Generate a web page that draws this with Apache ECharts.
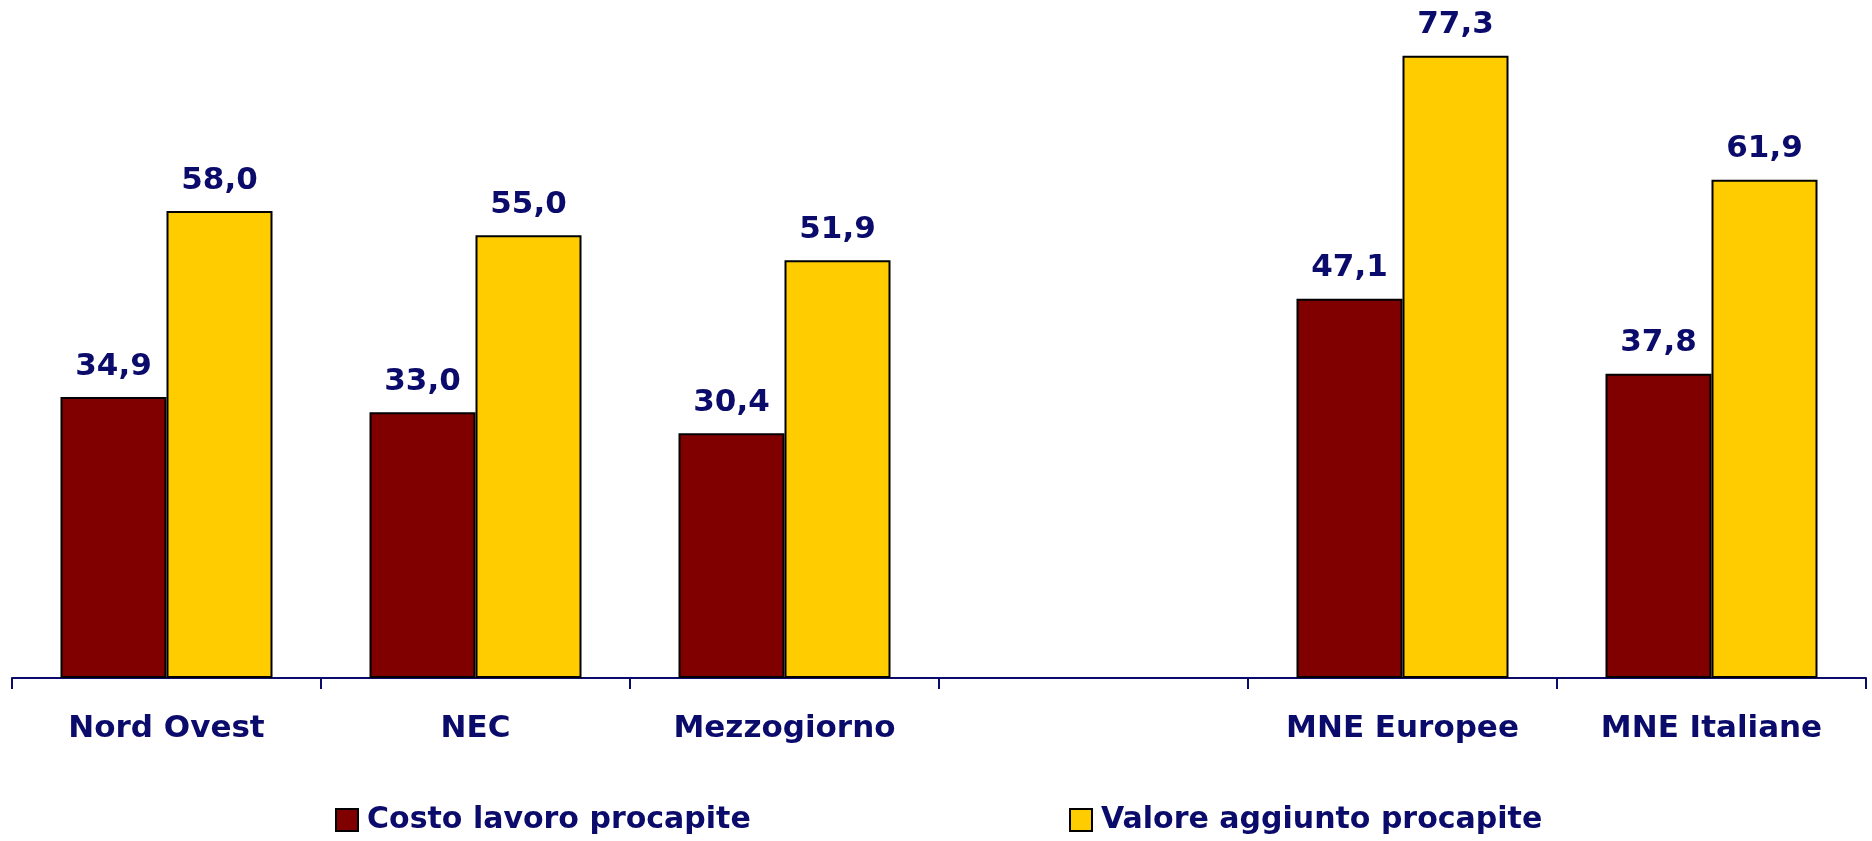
<!DOCTYPE html>
<html>
<head>
<meta charset="utf-8">
<script src="https://cdn.jsdelivr.net/npm/echarts@6/dist/echarts.min.js"></script>
<style>html,body{margin:0;padding:0;background:#fff}#c{width:1872px;height:841px}</style>
</head>
<body>
<div id="c"></div>
<script>
const categories = ['Nord Ovest', 'NEC', 'Mezzogiorno', '', 'MNE Europee', 'MNE Italiane'];
const costoLavoro = [34.9, 33.0, 30.4, null, 47.1, 37.8];
const valoreAggiunto = [58.0, 55.0, 51.9, null, 77.3, 61.9];
const seriesNames = ['Costo lavoro procapite', 'Valore aggiunto procapite'];

const navy = '#0b0b6b';
const font = 'DejaVu Sans';
const fmt = p => p.value == null ? '' : p.value.toFixed(1).replace('.', ',');

const legendText = { fontFamily: font, fontWeight: 'bold', fontSize: 30, color: navy, padding: [0, 0, 0, 4] };
const legendItem = { borderColor: '#000', borderWidth: 2 };

const chart = echarts.init(document.getElementById('c'));
chart.setOption({
  animation: false,
  backgroundColor: '#fff',
  grid: { left: 12, right: 6, top: 34, bottom: 163 },
  legend: [
    { data: [seriesNames[0]], left: 330, top: 800, itemWidth: 22, itemHeight: 22,
      icon: 'rect', itemStyle: legendItem, textStyle: legendText },
    { data: [seriesNames[1]], left: 1064, top: 800, itemWidth: 22, itemHeight: 22,
      icon: 'rect', itemStyle: legendItem, textStyle: legendText }
  ],
  xAxis: {
    type: 'category', data: categories,
    axisLine: { lineStyle: { color: navy, width: 2 } },
    axisTick: { show: true, length: 11, lineStyle: { color: navy, width: 2 } },
    axisLabel: { margin: 35, fontFamily: font, fontWeight: 'bold', fontSize: 31, color: navy, interval: 0 }
  },
  yAxis: { type: 'value', min: 0, max: 80, show: false, splitLine: { show: false } },
  series: [
    { name: seriesNames[0], type: 'bar', data: costoLavoro, barWidth: 106, barGap: '0%',
      itemStyle: { color: '#800000', borderColor: '#000', borderWidth: 2 },
      label: { show: true, position: 'top', distance: 15, formatter: fmt, fontFamily: font, fontWeight: 'bold', fontSize: 31, color: navy } },
    { name: seriesNames[1], type: 'bar', data: valoreAggiunto, barWidth: 106, barGap: '0%',
      itemStyle: { color: '#FFCC00', borderColor: '#000', borderWidth: 2 },
      label: { show: true, position: 'top', distance: 15, formatter: fmt, fontFamily: font, fontWeight: 'bold', fontSize: 31, color: navy } }
  ]
});
</script>
</body>
</html>
